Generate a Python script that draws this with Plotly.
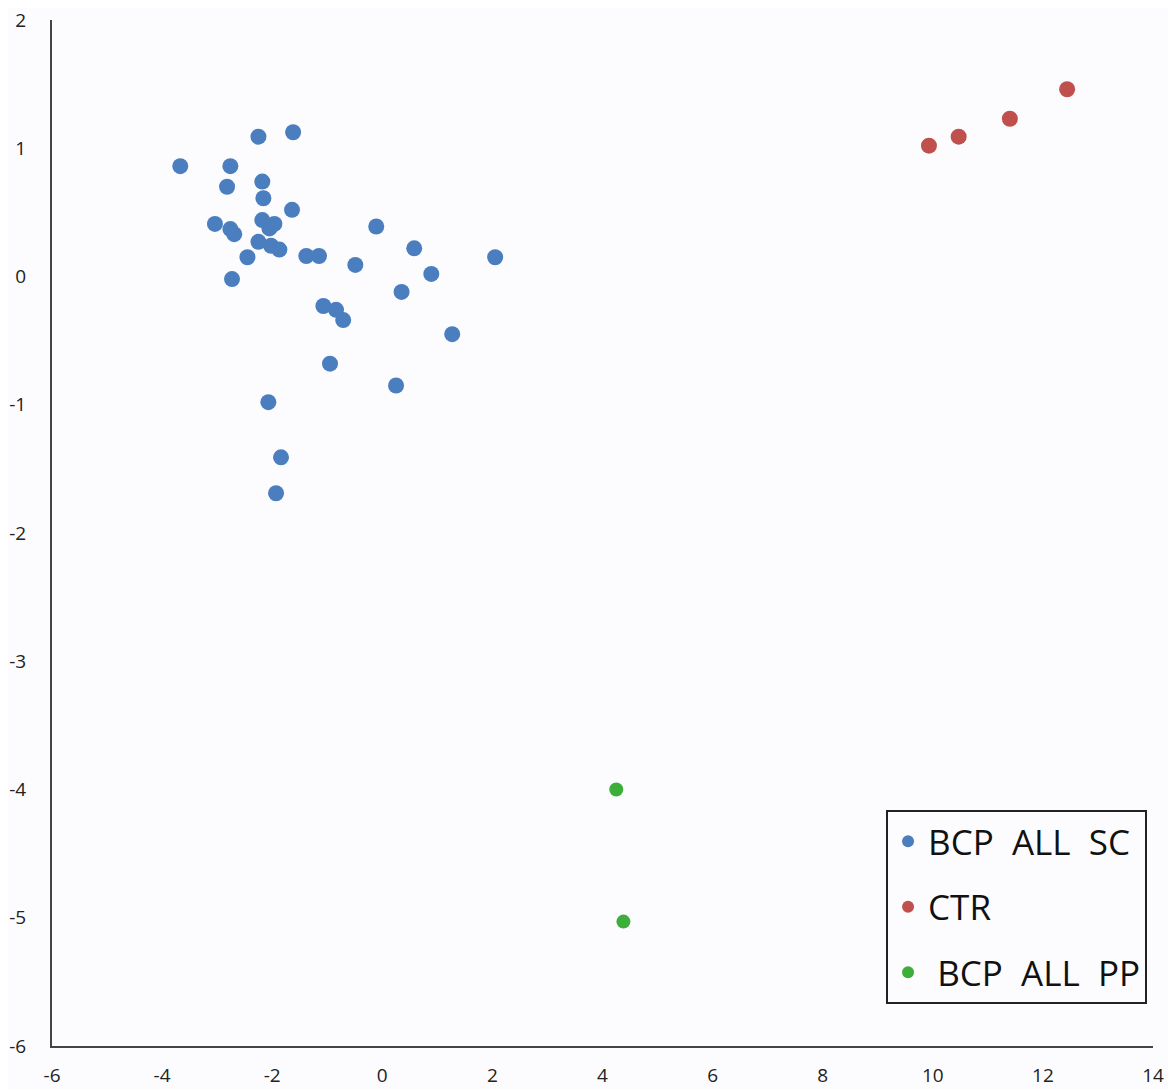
import plotly.graph_objects as go

sc_x = [-3.67, -2.76, -2.25, -1.62, -2.82, -2.18, -2.16, -1.64, -3.04, -2.76, -2.69, -2.18,
        -1.96, -2.05, -2.25, -2.02, -1.87, -2.45, -2.73, -1.38, -1.15, -0.49, -0.11, 0.58,
        0.89, 2.05, 0.35, 1.27, -1.07, -0.84, -0.71, -0.95, 0.25, -2.07, -1.84, -1.93]
sc_y = [0.86, 0.86, 1.09, 1.125, 0.70, 0.74, 0.61, 0.52, 0.41, 0.37, 0.33, 0.44,
        0.41, 0.375, 0.27, 0.24, 0.21, 0.15, -0.02, 0.16, 0.16, 0.09, 0.39, 0.22,
        0.02, 0.15, -0.12, -0.45, -0.23, -0.26, -0.34, -0.68, -0.85, -0.98, -1.41, -1.69]

ctr_x = [9.93, 10.47, 11.40, 12.44]
ctr_y = [1.02, 1.09, 1.23, 1.46]

pp_x = [4.25, 4.38]
pp_y = [-4.00, -5.03]

x_ticks = [-6, -4, -2, 0, 2, 4, 6, 8, 10, 12, 14]
x_tick_labels = ["-6", "-4", "-2", "0", "2", "4", "6", "8", "10", "12", "14"]
y_ticks = [-6, -5, -4, -3, -2, -1, 0, 1, 2]
y_tick_labels = ["-6", "-5", "-4", "-3", "-2", "-1", "0", "1", "2"]

NB = "\u00a0"
names = [f"BCP{NB}{NB}ALL{NB}{NB}SC", "CTR", f"{NB}BCP{NB}{NB}ALL{NB}{NB}PP"]

fig = go.Figure()
fig.add_trace(go.Scatter(x=sc_x, y=sc_y, mode="markers", name=names[0], legendgroup="a",
                         marker=dict(size=16, color="#4A7EBF")))
fig.add_trace(go.Scatter(x=ctr_x, y=ctr_y, mode="markers", name=names[1], legendgroup="b",
                         marker=dict(size=16, color="#C0504D")))
fig.add_trace(go.Scatter(x=pp_x, y=pp_y, mode="markers", name=names[2], legendgroup="c",
                         marker=dict(size=14, color="#3DAE3A")))

font_family = "Open Sans, Liberation Sans, sans-serif"
fig.update_layout(
    width=1168, height=1081,
    margin=dict(l=44, r=23, t=12, b=43),
    paper_bgcolor="#FCFCFE", plot_bgcolor="#FCFCFE",
    font=dict(family=font_family, size=19, color="#222222"),
    showlegend=True,
    legend=dict(
        x=0.9946, y=0.230, xanchor="right", yanchor="top",
        bgcolor="#FCFCFE", bordercolor="#222222", borderwidth=2,
        font=dict(size=35, color="#111111", family=font_family),
        itemsizing="constant", tracegroupgap=17,
    ),
    xaxis=dict(range=[-6, 14], tickvals=x_ticks, ticktext=x_tick_labels,
               showgrid=False, zeroline=False,
               showline=True, linecolor="#444444", linewidth=2, ticks="",
               ticklabelstandoff=11, automargin=False, ticklabeloverflow="allow"),
    yaxis=dict(range=[-6, 2], tickvals=y_ticks, ticktext=y_tick_labels,
               showgrid=False, zeroline=False,
               showline=True, linecolor="#444444", linewidth=2, ticks="",
               ticklabelstandoff=20, automargin=False, ticklabeloverflow="allow"),
)

fig.write_html("out.html")
